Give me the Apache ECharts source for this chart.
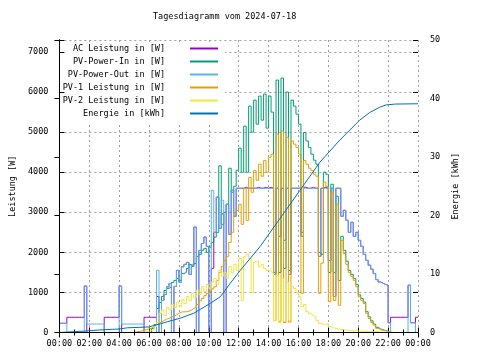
<!DOCTYPE html>
<html><head><meta charset="utf-8">
<script src="https://cdn.jsdelivr.net/npm/echarts@6/dist/echarts.min.js"></script>
<style>html,body{margin:0;padding:0;background:#fff}#c{width:480px;height:360px}</style>
</head><body><div id="c"></div>
<script>
const titleText = 'Tagesdiagramm vom 2024-07-18';
const seriesNames = ['AC Leistung in [W]','PV-Power-In in [W]','PV-Power-Out in [W]','PV-1 Leistung in [W]','PV-2 Leistung in [W]','Energie in [kWh]'];
const xTickLabels = ['00:00','02:00','04:00','06:00','08:00','10:00','12:00','14:00','16:00','18:00','20:00','22:00','00:00'];

const times = [
"00:00","00:10","00:20","00:30","00:40","00:50",
"01:00","01:10","01:20","01:30","01:40","01:50",
"02:00","02:10","02:20","02:30","02:40","02:50",
"03:00","03:10","03:20","03:30","03:40","03:50",
"04:00","04:10","04:20","04:30","04:40","04:50",
"05:00","05:10","05:20","05:30","05:40","05:50",
"06:00","06:10","06:20","06:30","06:40","06:50",
"07:00","07:10","07:20","07:30","07:40","07:50",
"08:00","08:10","08:20","08:30","08:40","08:50",
"09:00","09:10","09:20","09:30","09:40","09:50",
"10:00","10:10","10:20","10:30","10:40","10:50",
"11:00","11:10","11:20","11:30","11:40","11:50",
"12:00","12:10","12:20","12:30","12:40","12:50",
"13:00","13:10","13:20","13:30","13:40","13:50",
"14:00","14:10","14:20","14:30","14:40","14:50",
"15:00","15:10","15:20","15:30","15:40","15:50",
"16:00","16:10","16:20","16:30","16:40","16:50",
"17:00","17:10","17:20","17:30","17:40","17:50",
"18:00","18:10","18:20","18:30","18:40","18:50",
"19:00","19:10","19:20","19:30","19:40","19:50",
"20:00","20:10","20:20","20:30","20:40","20:50",
"21:00","21:10","21:20","21:30","21:40","21:50",
"22:00","22:10","22:20","22:30","22:40","22:50",
"23:00","23:10","23:20","23:30","23:40","23:50",
"24:00"];

const acPower = [
230,230,230,380,380,380,
380,380,380,380,1160,0,
0,0,0,0,0,0,
380,380,380,380,380,380,
1160,0,0,0,0,0,
0,0,0,0,380,380,
380,380,380,900,0,800,
950,1140,1220,0,1150,1550,
1250,1640,1700,1750,1450,1680,
2630,0,2050,2220,2380,2150,
0,1600,2500,3380,2600,2960,
0,3200,2450,3550,2900,3600,
3600,3600,3625,3600,3600,3600,
3600,3625,3600,3600,3625,3600,
3625,3600,1450,3600,2400,3600,
2300,3600,1450,3600,3600,3600,
3600,2400,3625,3600,3600,3625,
3600,3600,1900,3600,3625,3600,
1800,3600,900,3600,3600,2900,
3050,2800,2500,2750,2400,2500,
2300,2150,1950,1800,1680,1580,
1470,1320,1260,1230,1200,1180,
243,380,380,380,380,380,
380,380,1180,243,243,380,
380];

const pvPowerIn = [
0,0,0,0,0,0, 0,0,0,0,0,0, 0,0,0,0,0,0,
0,0,0,0,0,0, 0,0,0,0,0,0, 0,0,0,0,0,0,
0,100,200,600,750,900,
1050,1100,1140,1250,1300,1350,
1300,1470,1500,1600,1700,1650,
1720,1900,1950,2050,2100,2000,
2130,2250,2380,2500,4160,2700,
3000,3200,4100,3500,3650,4050,
4600,4000,5150,4000,5650,5000,
5800,5200,5900,5300,5950,5100,
5900,5500,1500,6300,1500,6350,
1600,6000,1550,5800,5650,5450,
5200,2500,4990,4780,4620,4450,
4300,4200,2000,1950,4000,3950,
1500,3700,1500,3400,1300,2400,
2050,1780,1550,1450,1350,1200,
940,850,760,520,390,290,
210,130,90,70,50,30,
10,0,0,0,0,0,
0,0,0,0,0,0,
0];

const pvPowerOut = [
230,230,230,0,0,0,
0,0,0,0,1160,211,
211,211,211,211,211,211,
0,0,0,0,0,0,
1160,211,211,211,211,211,
211,211,211,211,0,0,
0,0,0,1550,0,800,
950,1140,1220,0,1150,1550,
1250,1640,1700,1750,1450,1680,
2630,0,2050,2220,2380,2150,
0,3550,2500,3380,2600,3300,
0,3200,2450,3550,2900,3600,
3600,3600,3600,3600,3600,3600,
3600,3600,3600,3600,3600,3600,
3600,3600,1450,3600,2400,3600,
2300,3600,1450,3600,3600,3600,
3600,2400,3600,3600,3600,3600,
3600,3600,1900,3600,3600,3600,
1800,3600,900,3600,3600,2900,
3050,2800,2500,2750,2400,2500,
2300,2150,1950,1800,1680,1580,
1470,1320,1260,1230,1200,1180,
243,0,0,0,0,0,
0,0,1180,243,243,0,
0];

const pv1Power = [
0,0,0,0,0,0, 0,0,0,0,0,0, 0,0,0,0,0,0,
0,0,0,0,0,0, 0,0,0,0,0,0,
15,25,35,60,70,90,
110,140,186,220,260,300,
330,353,380,410,435,480,
510,517,517,530,560,600,
641,700,790,850,920,974,
1030,1090,1140,1300,1500,1650,
1800,1900,2250,2500,2960,3050,
3200,2700,3600,2800,3870,3500,
4040,3800,4200,3900,4290,4000,
4370,4450,300,4950,280,5030,
250,4870,260,4780,4700,4620,
4450,980,4290,4200,4100,4040,
3950,3900,980,1730,3750,3650,
770,3500,800,3200,680,2300,
1970,1700,1500,1400,1300,1140,
890,800,725,477,350,250,
186,104,70,55,45,25,
5,0,0,0,0,0,
0,0,0,0,0,0,
0];

const pv2Power = [
0,0,0,0,0,0, 0,0,0,0,0,0, 0,0,0,0,0,0,
0,0,0,0,0,0, 0,0,0,0,0,0,
0,0,0,0,20,30,
50,70,144,250,480,560,
420,620,560,700,620,760,
640,820,720,900,800,980,
860,1060,950,1140,1020,1200,
1100,1260,1350,1200,1550,1400,
1500,1350,1650,1500,1700,1550,
1850,800,1900,1950,1850,1000,
1760,1800,1640,1700,1600,1550,
1520,1480,300,1420,250,1350,
280,1260,300,1150,1100,1000,
890,640,700,520,470,430,
393,300,229,200,186,229,
144,120,100,90,80,70,
60,55,45,42,40,38,
37,33,30,28,25,22,
20,17,14,11,8,6,
5,0,0,0,0,0,
0,0,0,0,0,0,
0];

const energyTimes = ["00:00","00:24","01:48","02:39","04:00","04:33","06:00","06:19","06:46","07:13","08:06","09:00","10:06","10:46","11:26","12:06","13:26","14:46","16:06","17:26","18:46","20:06","20:46","21:26","21:52","22:30","24:00"];
const energyValues = [0,0.05,0.26,0.43,0.6,0.8,0.95,1.2,1.48,1.84,2.45,3.3,4.98,6.1,8.4,10.6,14.7,19.5,24.3,29.1,32.9,36.3,37.6,38.5,38.9,39.05,39.1];

const colors = ['#9400d3','#009e73','#56b4e9','#e69f00','#f0e442','#0072b2'];

function toMin(t){const p=t.split(':');return (+p[0])*60+(+p[1]);}
function pairs(ts, vs){return vs.map((v,i)=>[toMin(ts[i]), v]);}

const FONT = 'DejaVu Sans Mono';
const txt = {fontFamily:FONT, fontSize:8.5, color:'#000'};
const black = {color:'#000', width:1};
const gridLine = {color:'#a0a0a0', width:1, type:[2,3]};

const chart = echarts.init(document.getElementById('c'), null, {renderer:'canvas'});

function powerSeries(idx, values){
  return {name:seriesNames[idx], type:'line', step:'end', symbol:'none', showSymbol:false,
    yAxisIndex:0, xAxisIndex:0, data:pairs(times, values),
    lineStyle:{width:1, color:colors[idx]}, itemStyle:{color:colors[idx]}};
}

const option = {
  animation:false,
  color:colors,
  title:{text:titleText, left:153, top:12, padding:0,
    textStyle:Object.assign({fontWeight:'normal'}, txt)},
  legend:{orient:'vertical', align:'right', right:255, top:42, padding:[1,7,3,3],
    backgroundColor:'#fff', itemWidth:28, itemHeight:2, itemGap:2, icon:'rect',
    textStyle:Object.assign({lineHeight:11, padding:[0,20,0,0]}, txt),
    data:seriesNames},
  grid:{left:58, right:62, top:40, bottom:27.5},
  xAxis:[
    {type:'value', min:0, max:1440, interval:120, position:'bottom',
     axisLine:{lineStyle:black}, axisTick:{inside:true, length:5, lineStyle:black},
     minorTick:{show:true, splitNumber:2, length:3, lineStyle:black},
     splitLine:{show:true, lineStyle:gridLine},
     axisLabel:Object.assign({margin:7, formatter:(v)=>xTickLabels[Math.round(v/120)]}, txt)},
    {type:'value', min:0, max:1440, interval:120, position:'top', z:10,
     axisLine:{lineStyle:black}, axisTick:{inside:true, length:5, lineStyle:black},
     minorTick:{show:true, splitNumber:2, length:3, lineStyle:black},
     splitLine:{show:false}, axisLabel:{show:false}}
  ],
  yAxis:[
    {type:'value', min:0, max:7300, interval:1000, position:'left',
     name:'Leistung [W]', nameLocation:'middle', nameRotate:90, nameGap:42,
     nameTextStyle:txt,
     axisLine:{show:true, lineStyle:black}, axisTick:{show:false},
     splitLine:{show:true, lineStyle:gridLine},
     axisLabel:Object.assign({margin:11, showMaxLabel:false,
       formatter:(v)=> (v%1000===0 ? String(v) : '')}, txt)},
    {type:'value', min:0, max:50, interval:10, position:'right',
     name:'Energie [kWh]', nameLocation:'middle', nameRotate:90, nameGap:30,
     nameTextStyle:txt,
     axisLine:{show:true, lineStyle:black}, axisTick:{show:true, inside:true, length:5, lineStyle:black},
     splitLine:{show:false},
     axisLabel:Object.assign({margin:12}, txt)},
    {type:'value', min:0, max:7300, interval:1000, position:'right',
     axisLine:{show:false}, axisTick:{show:true, inside:true, length:5, lineStyle:black},
     splitLine:{show:false}, axisLabel:{show:false}},
    {type:'value', min:0, max:7300, interval:1000, position:'left', z:10,
     axisLine:{show:true, lineStyle:black}, axisTick:{show:true, inside:true, length:5, lineStyle:black},
     splitLine:{show:false}, axisLabel:{show:false}}
  ],
  series:[
    powerSeries(0, acPower),
    powerSeries(1, pvPowerIn),
    powerSeries(2, pvPowerOut),
    powerSeries(3, pv1Power),
    powerSeries(4, pv2Power),
    {name:seriesNames[5], type:'line', symbol:'none', showSymbol:false, yAxisIndex:1, xAxisIndex:0,
     data:pairs(energyTimes, energyValues), lineStyle:{width:1, color:colors[5]}, itemStyle:{color:colors[5]}}
  ]
};
chart.setOption(option);
</script></body></html>
